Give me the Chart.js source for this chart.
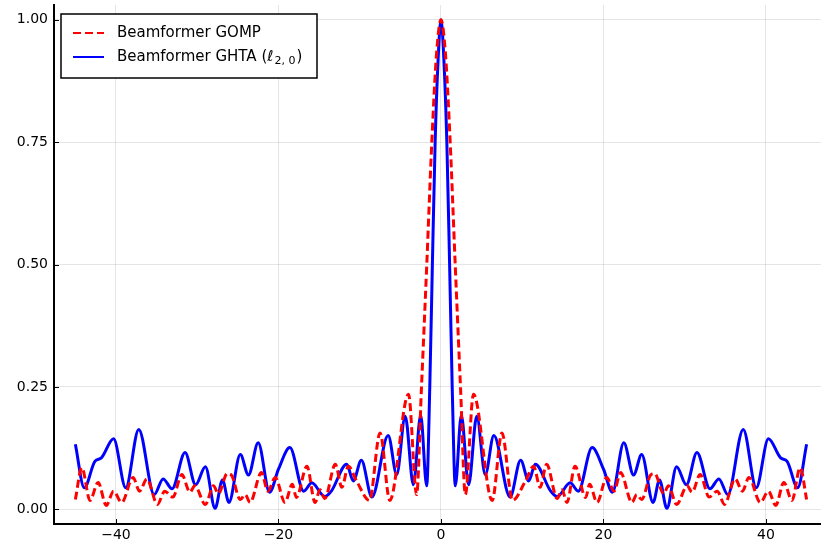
<!DOCTYPE html>
<html>
<head>
<meta charset="utf-8">
<script src="https://cdn.jsdelivr.net/npm/chart.js@4.4.1/dist/chart.umd.min.js"></script>
<style>
  html, body { margin: 0; padding: 0; background: #fff; overflow: hidden; }
</style>
</head>
<body>
<canvas id="chart" width="821" height="548"></canvas>
<script>
// Beamformer GOMP (red, dashed)
const gompX = [-45.0, -44.2, -43.2, -42.2, -41.2, -40.3, -39.3, -37.9, -37.1, -36.2, -34.9, -34.0, -33.0, -31.9, -30.9, -30.3,
  -29.0, -28.0, -27.4, -26.3, -25.8, -24.7, -24.1, -23.5, -22.1, -21.3, -20.4, -19.2, -18.3, -17.8, -16.5, -15.5,
  -14.9, -14.3, -13.0, -12.2, -11.4, -10.4, -8.8, -7.5, -6.3, -4.0, -3.0, -2.4, -1.75, -1.13, -0.55, 0,
  0.55, 1.13, 1.75, 2.4, 3.0, 4.0, 6.3, 7.5, 8.8, 10.4, 11.4, 12.2, 13.0, 14.3, 14.9, 15.5,
  16.5, 17.8, 18.3, 19.2, 20.4, 21.3, 22.1, 23.5, 24.1, 24.7, 25.8, 26.3, 27.4, 28.0, 29.0, 30.3,
  30.9, 31.9, 33.0, 34.0, 34.9, 36.2, 37.1, 37.9, 39.3, 40.3, 41.2, 42.2, 43.2, 44.2, 45.0];
const gompY = [0.020, 0.085, 0.018, 0.055, 0.008, 0.037, 0.014, 0.065, 0.037, 0.062, 0.010, 0.037, 0.025, 0.071, 0.035, 0.048,
  0.010, 0.048, 0.032, 0.073, 0.070, 0.020, 0.030, 0.014, 0.075, 0.037, 0.065, 0.014, 0.051, 0.024, 0.088, 0.014,
  0.040, 0.022, 0.092, 0.045, 0.088, 0.058, 0.018, 0.156, 0.018, 0.235, 0.030, 0.25, 0.50, 0.75, 0.93, 1.0,
  0.93, 0.75, 0.50, 0.25, 0.030, 0.235, 0.018, 0.156, 0.018, 0.058, 0.088, 0.045, 0.092, 0.022, 0.040, 0.014,
  0.088, 0.024, 0.051, 0.014, 0.065, 0.037, 0.075, 0.014, 0.030, 0.020, 0.070, 0.073, 0.032, 0.048, 0.010, 0.048,
  0.035, 0.071, 0.025, 0.037, 0.010, 0.062, 0.037, 0.065, 0.014, 0.037, 0.008, 0.055, 0.018, 0.085, 0.020];

// Beamformer GHTA (blue, solid)
const ghtaX = [-45.0, -43.9, -42.6, -41.8, -40.3, -38.8, -37.2, -35.3, -34.2, -33.1, -31.5, -30.2, -29.0, -27.8, -26.9, -26.1,
  -24.7, -23.7, -22.5, -21.1, -20.0, -18.6, -16.9, -15.9, -14.3, -13.5, -11.6, -10.8, -9.8, -8.5, -6.5, -5.45,
  -4.4, -3.4, -2.5, -1.76, -1.38, -1.06, -0.72, -0.35, 0,
  0.35, 0.72, 1.06, 1.38, 1.76, 2.5, 3.4, 4.4, 5.45, 6.5, 8.5, 9.8, 10.8, 11.6, 13.5, 14.3,
  15.9, 16.9, 18.6, 20.0, 21.1, 22.5, 23.7, 24.7, 26.1, 26.9, 27.8, 29.0, 30.2, 31.5, 33.1, 34.2,
  35.3, 37.2, 38.8, 40.3, 41.8, 42.6, 43.9, 45.0];
const ghtaY = [0.133, 0.044, 0.098, 0.105, 0.144, 0.044, 0.163, 0.030, 0.062, 0.042, 0.116, 0.050, 0.087, 0.002, 0.060, 0.014,
  0.112, 0.070, 0.136, 0.035, 0.082, 0.126, 0.037, 0.054, 0.026, 0.037, 0.092, 0.058, 0.100, 0.025, 0.151, 0.071,
  0.190, 0.050, 0.192, 0.048, 0.25, 0.50, 0.75, 0.92, 1.0,
  0.92, 0.75, 0.50, 0.25, 0.048, 0.192, 0.050, 0.190, 0.071, 0.151, 0.025, 0.100, 0.058, 0.092, 0.037, 0.026,
  0.054, 0.037, 0.126, 0.082, 0.035, 0.136, 0.070, 0.112, 0.014, 0.060, 0.002, 0.087, 0.050, 0.116, 0.042, 0.062,
  0.030, 0.163, 0.044, 0.144, 0.105, 0.098, 0.044, 0.133];

const xTicks = [-40, -20, 0, 20, 40];
const yTicks = [0, 0.25, 0.5, 0.75, 1.0];

// legend text; "sub" is drawn as a subscript
const seriesLabels = [
  { text: "Beamformer GOMP", sub: "", after: "" },
  { text: "Beamformer GHTA (\u2113", sub: "2, 0", after: ")" }
];

const FONT = "'DejaVu Sans', sans-serif";

const toPoints = (xs, ys) => xs.map((x, i) => ({ x: x, y: ys[i] }));

// Julia-style ticks pointing into the plot
const innerTicks = {
  id: "innerTicks",
  beforeDatasetsDraw(chart) {
    const { ctx, chartArea, scales } = chart;
    ctx.save();
    ctx.strokeStyle = "#000";
    ctx.lineWidth = 1;
    ctx.beginPath();
    xTicks.forEach(v => {
      const px = Math.round(scales.x.getPixelForValue(v)) + 0.5;
      ctx.moveTo(px, chartArea.bottom);
      ctx.lineTo(px, chartArea.bottom - 5);
    });
    yTicks.forEach(v => {
      const py = Math.round(scales.y.getPixelForValue(v)) + 0.5;
      ctx.moveTo(chartArea.left, py);
      ctx.lineTo(chartArea.left + 5, py);
    });
    ctx.stroke();
    ctx.restore();
  }
};

const boxLegend = {
  id: "boxLegend",
  afterDraw(chart) {
    const { ctx, chartArea } = chart;
    const left = chartArea.left + 7, top = chartArea.top + 9;
    const w = 256, h = 64;
    ctx.save();
    ctx.fillStyle = "#fff";
    ctx.fillRect(left, top, w, h);
    ctx.strokeStyle = "#000";
    ctx.lineWidth = 1.5;
    ctx.strokeRect(left, top, w, h);
    chart.data.datasets.forEach((ds, i) => {
      const y = top + 19 + i * 24;
      ctx.strokeStyle = ds.borderColor;
      ctx.lineWidth = 2;
      ctx.setLineDash(ds.borderDash || []);
      ctx.beginPath();
      ctx.moveTo(left + 12, y);
      ctx.lineTo(left + 43, y);
      ctx.stroke();
      ctx.setLineDash([]);
      const lab = seriesLabels[i];
      ctx.fillStyle = "#000";
      ctx.textBaseline = "middle";
      ctx.font = "15px " + FONT;
      let x = left + 56;
      ctx.fillText(lab.text, x, y);
      x += ctx.measureText(lab.text).width;
      if (lab.sub) {
        ctx.font = "11px " + FONT;
        ctx.fillText(lab.sub, x + 1, y + 4);
        x += ctx.measureText(lab.sub).width + 2;
        ctx.font = "15px " + FONT;
        ctx.fillText(lab.after, x, y);
      }
    });
    ctx.restore();
  }
};

new Chart(document.getElementById("chart"), {
  type: "line",
  data: {
    datasets: [
      {
        label: "Beamformer GOMP",
        data: toPoints(gompX, gompY),
        borderColor: "#ff0000",
        borderWidth: 3,
        borderDash: [8, 4],
        pointRadius: 0,
        cubicInterpolationMode: "monotone",
        fill: false
      },
      {
        label: "Beamformer GHTA",
        data: toPoints(ghtaX, ghtaY),
        borderColor: "#0000ff",
        borderWidth: 3,
        pointRadius: 0,
        cubicInterpolationMode: "monotone",
        fill: false
      }
    ]
  },
  options: {
    responsive: false,
    animation: false,
    layout: { padding: { top: 5, right: 0, left: 0, bottom: 0 } },
    plugins: {
      legend: { display: false },
      tooltip: { enabled: false }
    },
    scales: {
      x: {
        type: "linear",
        min: -47.63,
        max: 46.77,
        afterBuildTicks: s => { s.ticks = xTicks.map(v => ({ value: v })); },
        afterFit: s => { s.height = 24; s.paddingLeft = 0; s.paddingRight = 0; },
        ticks: {
          callback: v => (v < 0 ? "\u2212" + Math.abs(v) : String(v)),
          font: { family: FONT, size: 14 },
          color: "#000",
          padding: 3,
          maxRotation: 0
        },
        grid: { color: "rgba(0,0,0,0.1)", lineWidth: 1, drawTicks: false },
        border: { color: "#000", width: 2 }
      },
      y: {
        min: -0.03,
        max: 1.03,
        afterBuildTicks: s => { s.ticks = yTicks.map(v => ({ value: v })); },
        afterFit: s => { s.width = 54; s.paddingTop = 0; s.paddingBottom = 0; },
        ticks: {
          callback: v => v.toFixed(2),
          font: { family: FONT, size: 14 },
          color: "#000",
          padding: 6
        },
        grid: { color: "rgba(0,0,0,0.1)", lineWidth: 1, drawTicks: false },
        border: { color: "#000", width: 2 }
      }
    }
  },
  plugins: [innerTicks, boxLegend]
});
</script>
</body>
</html>
